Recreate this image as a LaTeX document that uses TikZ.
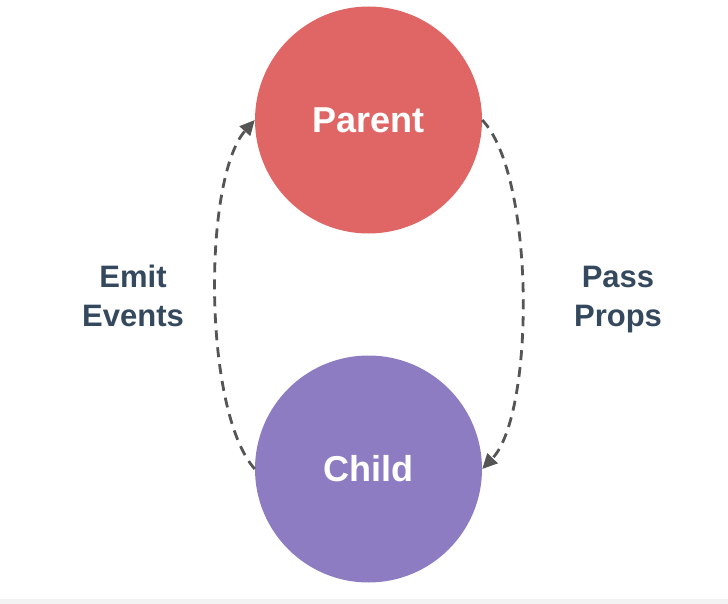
\documentclass[tikz,border=0pt]{standalone}
\usepackage{fontspec}
\setmainfont{Liberation Sans}
\usetikzlibrary{arrows.meta}
\begin{document}
\begin{tikzpicture}[x=1pt,y=1pt]
        %colores
        \definecolor{rojo}{HTML}{E06666}
        \definecolor{morado}{HTML}{8E7CC3}
        \definecolor{pizarra}{HTML}{35495E}
        \definecolor{flecha}{HTML}{555555}
        \definecolor{franja}{HTML}{F3F3F3}
        \tikzset{
            bola/.style={circle,inner sep=0pt,minimum size=227pt,text=white,
                font=\fontsize{36}{43}\selectfont\bfseries},
            rotulo/.style={text=pizarra,align=center,anchor=base,
                font=\fontsize{31}{39}\selectfont\bfseries},
            flujo/.style={flecha,line width=2.8pt,dash pattern=on 10pt off 7pt,
                -{Triangle[length=15pt,width=14pt]}}
        }
        % Fondo y franja inferior
        \useasboundingbox (0,0) rectangle (728,-604);
        \fill[franja] (0,-599) rectangle (728,-604);

        % Circulos
        \node[bola,fill=rojo] (parent) at (368.5,-120) {Parent};
        \node[bola,fill=morado] (child) at (368.5,-469) {Child};

        % Flechas discontinuas
        \draw[flujo] (child.west) .. controls +(-52,58) and +(-52,-58) .. (parent.west);
        \draw[flujo] (parent.east) .. controls +(53,-55) and +(53,55) .. (child.east);

        % Etiquetas
        \node[rotulo] (emit) at (133,-326) {Emit\\Events};
        \node[rotulo] (pass) at (618,-326) {Pass\\Props};
    \end{tikzpicture}
\end{document}
